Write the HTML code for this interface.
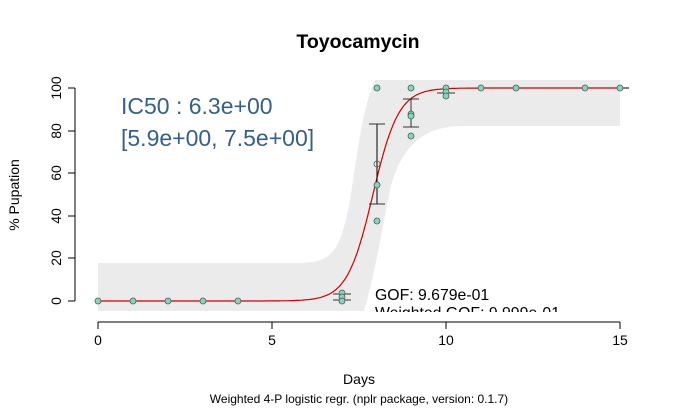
<!DOCTYPE html><html><head><style>body{margin:0;background:#fff}svg{display:block;font-family:"Liberation Sans",sans-serif}</style></head><body>
<svg width="681" height="409" viewBox="0 0 681 409">
<defs><clipPath id="c"><rect x="60" y="80" width="600" height="231"/></clipPath></defs>
<g clip-path="url(#c)">
<path d="M98,263 L300,263 C330,262 340,255 350,200 C358,150 362,110 375,80 L620,80 L620,126 L460,126 C420,127 400,150 390,190 C380,240 370,300 360,320 L98,320 Z" fill="#ebebeb"/>
</g>
<text x="358" y="48" text-anchor="middle" font-size="19.5" font-weight="bold">Toyocamycin</text>
<line x1="75" y1="88" x2="75" y2="301" stroke="#000"/>
<g stroke="#000"><line x1="68" y1="301" x2="75" y2="301"/><line x1="68" y1="258" x2="75" y2="258"/><line x1="68" y1="216" x2="75" y2="216"/><line x1="68" y1="173" x2="75" y2="173"/><line x1="68" y1="131" x2="75" y2="131"/><line x1="68" y1="88" x2="75" y2="88"/></g>
<g font-size="14" text-anchor="middle"><text transform="translate(57,301) rotate(-90)" dy="4">0</text><text transform="translate(57,258) rotate(-90)" dy="4">20</text><text transform="translate(57,216) rotate(-90)" dy="4">40</text><text transform="translate(57,173) rotate(-90)" dy="4">60</text><text transform="translate(57,131) rotate(-90)" dy="4">80</text><text transform="translate(57,88) rotate(-90)" dy="4">100</text></g>
<text transform="translate(19,195) rotate(-90)" text-anchor="middle" font-size="14">% Pupation</text>
<line x1="98" y1="322" x2="620" y2="322" stroke="#000"/>
<g stroke="#000"><line x1="98" y1="322" x2="98" y2="329"/><line x1="272" y1="322" x2="272" y2="329"/><line x1="446" y1="322" x2="446" y2="329"/><line x1="620" y1="322" x2="620" y2="329"/></g>
<g font-size="14" text-anchor="middle"><text x="98" y="345">0</text><text x="272" y="345">5</text><text x="446" y="345">10</text><text x="620" y="345">15</text><text x="359" y="384">Days</text></g>
<text x="359" y="403" text-anchor="middle" font-size="12">Weighted 4-P logistic regr. (nplr package, version: 0.1.7)</text>
<text x="121" y="114" font-size="23" fill="#365f8a">IC50 : 6.3e+00</text>
<text x="121" y="146" font-size="23" fill="#365f8a">[5.9e+00, 7.5e+00]</text>
<text x="375" y="300" font-size="15.8">GOF: 9.679e-01</text>
<clipPath id="c2"><rect x="370" y="300" width="300" height="12"/></clipPath>
<text x="375" y="318" font-size="15.8" clip-path="url(#c2)">Weighted GOF: 9.999e-01</text>
<polyline fill="none" stroke="#d00000" stroke-width="1.2" points="PTS"/>
<g stroke="#333" fill="none">
<line x1="342" y1="294" x2="342" y2="301"/><line x1="333" y1="294" x2="351" y2="294"/><line x1="333" y1="300" x2="351" y2="300"/>
<line x1="377" y1="124" x2="377" y2="204" stroke="#000"/><line x1="369" y1="124" x2="385" y2="124"/><line x1="369" y1="204" x2="385" y2="204"/>
<line x1="411" y1="99" x2="411" y2="127"/><line x1="403" y1="99" x2="419" y2="99"/><line x1="403" y1="127" x2="419" y2="127"/>
<line x1="437" y1="93" x2="455" y2="93"/><line x1="620" y1="88" x2="629" y2="88" stroke="#000"/>
</g>
<g fill="#7fd8be" stroke="#555" stroke-width="0.8">
<circle cx="98" cy="301" r="3"/><circle cx="133" cy="301" r="3"/><circle cx="168" cy="301" r="3"/><circle cx="203" cy="301" r="3"/><circle cx="238" cy="301" r="3"/>
<circle cx="342" cy="293" r="3"/><circle cx="342" cy="297" r="3"/><circle cx="342" cy="301" r="3"/>
<circle cx="377" cy="88" r="3"/><circle cx="377" cy="164" r="3" fill="none"/><circle cx="377" cy="185" r="3"/><circle cx="377" cy="221" r="3"/>
<circle cx="411" cy="88" r="3"/><circle cx="411" cy="114" r="3"/><circle cx="411" cy="116" r="3"/><circle cx="411" cy="136" r="3"/>
<circle cx="446" cy="88" r="3"/><circle cx="446" cy="92" r="3"/><circle cx="446" cy="96" r="3"/>
<circle cx="481" cy="88" r="3"/><circle cx="516" cy="88" r="3"/><circle cx="585" cy="88" r="3"/><circle cx="620" cy="88" r="3"/>
</g>
</svg>
<script>
var p=[];for(var x=0;x<=15.001;x+=0.05){var y=100/(1+Math.exp(-2.7*(x-7.9)));p.push((98+x*34.8).toFixed(1)+","+(301-y*2.13).toFixed(1));}
document.querySelector("polyline").setAttribute("points",p.join(" "));
</script>
</body></html>
